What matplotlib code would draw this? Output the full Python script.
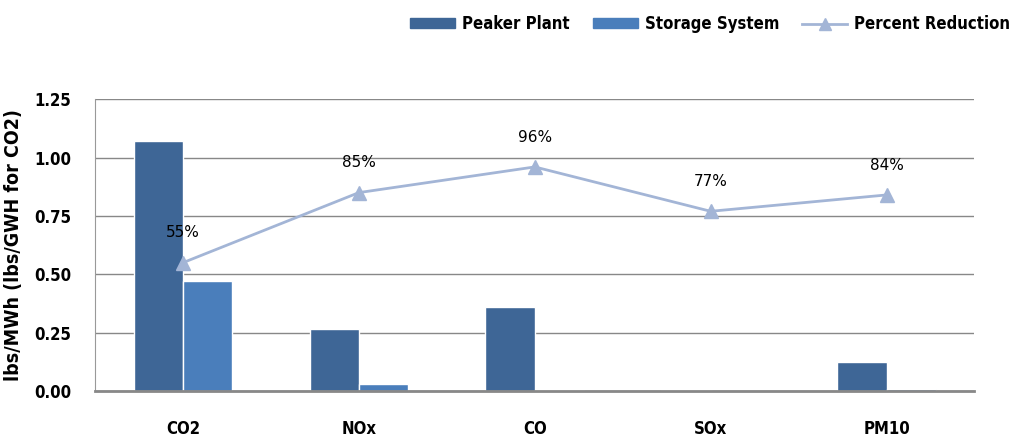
import numpy as np
import matplotlib.pyplot as plt
from matplotlib.lines import Line2D
from matplotlib.patches import Patch

# Emissionen je Schadstoff
categories = ["CO2", "NOx", "CO", "SOx", "PM10"]
peaker = [1.07, 0.265, 0.36, 0.005, 0.124]
storage = [0.47, 0.03, 0.005, 0.002, 0.01]
reduction = [0.55, 0.85, 0.96, 0.77, 0.84]
reduction_labels = ["55%", "85%", "96%", "77%", "84%"]

c_peak = "#3E6696"
c_stor = "#4A7EBB"
c_line = "#A3B5D6"

bold_font = ["DejaVu Sans"]
stretch = "condensed"

fig = plt.figure(figsize=(10.25, 4.37), dpi=100)
ax = fig.add_axes([0.0927, 0.105, 0.858, 0.668])

x = np.arange(len(categories))
w = 0.28
ax.bar(x - w / 2, peaker, w, color=c_peak, edgecolor="white", linewidth=1, zorder=2)
ax.bar(x + w / 2, storage, w, color=c_stor, edgecolor="white", linewidth=1, zorder=2)
ax.plot(x, reduction, color=c_line, lw=2, marker="^", ms=10, zorder=3)

for xi, yi, lab in zip(x, reduction, reduction_labels):
    ax.annotate(lab, (xi, yi), xytext=(0, 16), textcoords="offset points",
                ha="center", va="bottom", fontsize=11)

ax.set_xlim(-0.5, 4.5)
ax.set_ylim(0, 1.25)
ax.set_yticks([0, 0.25, 0.5, 0.75, 1.0, 1.25])
ax.set_yticklabels(["0.00", "0.25", "0.50", "0.75", "1.00", "1.25"],
                   family=bold_font, fontweight="bold", fontsize=12, fontstretch=stretch)
ax.set_xticks(x)
ax.set_xticklabels(categories, family=bold_font, fontweight="bold", fontsize=12,
                   fontstretch=stretch)
ax.tick_params(axis="x", length=0, pad=21)
ax.tick_params(axis="y", length=0, pad=17)
ax.grid(True, axis="y", color="#888888", lw=1, zorder=0)
ax.set_axisbelow(True)
for s in ["top", "right"]:
    ax.spines[s].set_visible(False)
ax.spines["left"].set_color("#999999")
ax.spines["bottom"].set_color("#888888")
ax.spines["bottom"].set_linewidth(2)
ax.set_ylabel("lbs/MWh (lbs/GWH for CO2)", family=bold_font, fontweight="bold",
              fontsize=14, fontstretch=stretch)
ax.yaxis.set_label_coords(-0.082, 0.5)

handles = [Patch(color=c_peak), Patch(color=c_stor),
           Line2D([0], [0], color=c_line, lw=2, marker="^", ms=8)]
fig.legend(handles, ["Peaker Plant", "Storage System", "Percent Reduction"],
           loc="upper right", bbox_to_anchor=(1.0, 1.0), ncol=3, frameon=False,
           prop={"family": bold_font, "weight": "bold", "size": 12, "stretch": stretch},
           handlelength=2.7, handleheight=0.5, columnspacing=1.4, handletextpad=0.4)

plt.savefig("out.png", dpi=100)
